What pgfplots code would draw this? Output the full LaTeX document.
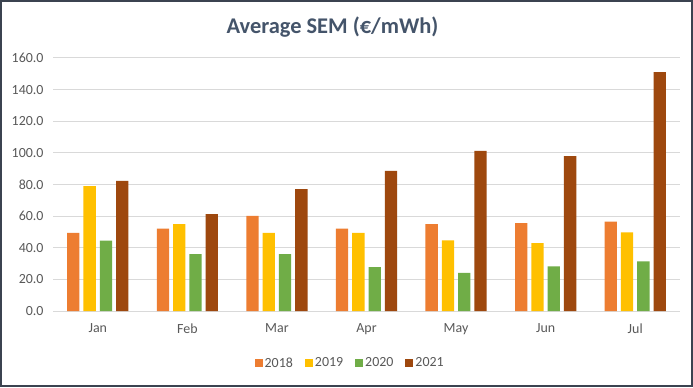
\documentclass[border=0pt]{standalone}
\usepackage{pgfplots}
\pgfplotsset{compat=1.18}
\usepackage{fontspec}
\setmainfont{Carlito}
\definecolor{cA}{HTML}{ED7D31}
\definecolor{cB}{HTML}{FFC000}
\definecolor{cC}{HTML}{70AD47}
\definecolor{cD}{HTML}{9E480E}
\definecolor{titlec}{HTML}{44546A}
\definecolor{tickc}{HTML}{595959}
\definecolor{gridc}{HTML}{D9D9D9}
\definecolor{framec}{HTML}{3B4350}
\begin{document}
\begin{tikzpicture}[x=1bp,y=1bp]
\useasboundingbox (0,0) rectangle (693,387);
\fill[white] (0,0) rectangle (693,387);
\draw[line width=2bp, framec] (1,1) rectangle (692,386);
\node[font=\fontsize{22.5}{26}\selectfont\bfseries, text=titlec] at (332.5,360) {Average SEM (€/mWh)};
\begin{axis}[
  at={(53bp,76bp)}, anchor=south west,
  width=627bp, height=253bp, scale only axis,
  ybar=4bp, bar width=12.3bp,
  xmin=-0.5, xmax=6.5,
  ymin=0, ymax=160,
  ytick={0,20,...,160},
  xtick=data,
  xticklabels={Jan,Feb,Mar,Apr,May,Jun,Jul},
  axis line style={draw=none},
  major tick length=0pt,
  ymajorgrids,
  grid style={gridc, line width=1bp},
  /pgf/number format/assume math mode=true,
  yticklabel style={/pgf/number format/fixed, /pgf/number format/fixed zerofill, /pgf/number format/precision=1, font=\fontsize{14}{16}\selectfont, text=tickc, xshift=-6bp},
  xticklabel style={font=\fontsize{14}{16}\selectfont, text=tickc, yshift=-9bp},
  legend style={at={(0.474,-0.2055)}, anchor=center, draw=none, legend columns=4,
    font=\fontsize{14}{16}\selectfont, text=tickc,
    /tikz/every even column/.append style={column sep=10bp}},
  legend image code/.code={\fill[#1] (0bp,-4bp) rectangle (8bp,4bp);},
]
\addplot[fill=cA, draw=none] coordinates {(0,49.4) (1,52.1) (2,60.1) (3,52.1) (4,54.9) (5,55.5) (6,56.5)};
\addplot[fill=cB, draw=none] coordinates {(0,78.9) (1,54.9) (2,49.4) (3,49.4) (4,44.7) (5,43.0) (6,49.8)};
\addplot[fill=cC, draw=none] coordinates {(0,44.5) (1,35.9) (2,35.9) (3,27.8) (4,24.1) (5,28.3) (6,31.4)};
\addplot[fill=cD, draw=none] coordinates {(0,82.3) (1,61.2) (2,77.0) (3,88.6) (4,101.3) (5,97.9) (6,151.1)};
\legend{2018,2019,2020,2021}
\end{axis}
\end{tikzpicture}
\end{document}
